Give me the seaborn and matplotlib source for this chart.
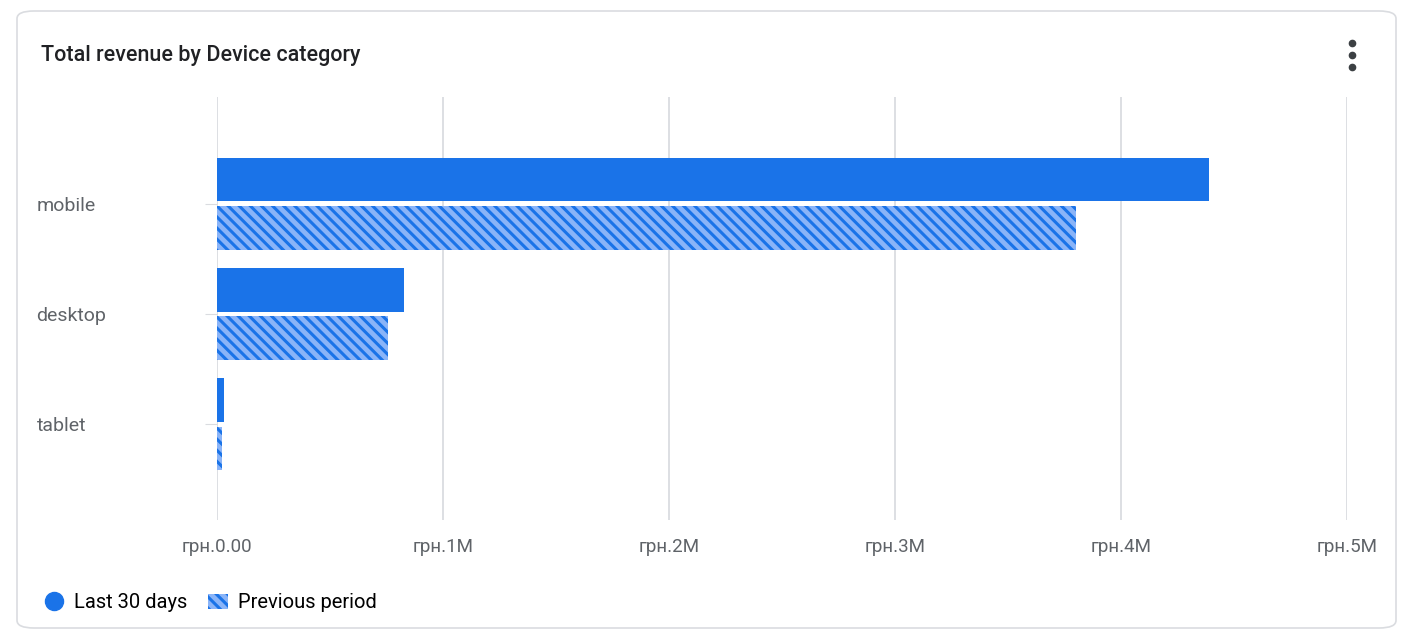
import numpy as np
import pandas as pd
import matplotlib.pyplot as plt
import seaborn as sns
from matplotlib.patches import FancyBboxPatch
from matplotlib.lines import Line2D
from matplotlib.patches import Patch

devices = ["mobile", "desktop", "tablet"]
last_30_days = [4.39e6, 0.827e6, 0.031e6]
previous_period = [3.80e6, 0.757e6, 0.022e6]
period_names = ["Last 30 days", "Previous period"]
x_ticks = [0, 1e6, 2e6, 3e6, 4e6, 5e6]
x_tick_labels = ["грн.0.00", "грн.1M", "грн.2M", "грн.3M", "грн.4M", "грн.5M"]

BLUE = "#1a73e8"
LIGHT = "#8ab4f8"
GREY = "#5f6368"

df = pd.DataFrame({
    "device": devices * 2,
    "revenue": last_30_days + previous_period,
    "period": [period_names[0]] * 3 + [period_names[1]] * 3,
})

plt.rcParams["font.family"] = ["Roboto", "DejaVu Sans"]
plt.rcParams["hatch.linewidth"] = 2.2
fig = plt.figure(figsize=(14.11, 6.34), dpi=100)
fig.patch.set_facecolor("white")
W, H = 1411, 634
ax = fig.add_axes([217 / W, 1 - 520 / H, (1347 - 217) / W, (520 - 97) / H])

sns.barplot(data=df, x="revenue", y="device", hue="period", order=devices,
            hue_order=period_names, palette=[BLUE, LIGHT], width=0.88,
            gap=0.1, saturation=1, legend=False, ax=ax)

for bar in ax.containers[1]:
    bar.set_hatch("\\\\\\")
    bar.set_edgecolor(BLUE)
    bar.set_linewidth(0)

ax.set_xlim(0, 5e6)
ax.set_ylim(2.87, -0.97)
ax.set_xticks(x_ticks)
ax.set_xticklabels(x_tick_labels, color=GREY, fontsize=13.5)
ax.grid(axis="x", color="#dadce0", linewidth=1.3)
ax.set_axisbelow(True)
for s in ax.spines.values():
    s.set_visible(False)
ax.tick_params(axis="x", length=0, pad=13)
ax.tick_params(axis="y", length=9, color="#dadce0", pad=121)
for lbl in ax.get_yticklabels():
    lbl.set_horizontalalignment("left")
    lbl.set_color(GREY)
    lbl.set_fontsize(14)
ax.set_xlabel("")
ax.set_ylabel("")

# card
fig.patches.append(FancyBboxPatch((17 / W, 6 / H), (1396 - 17) / W, (623 - 6) / H,
                                  boxstyle="round,pad=0,rounding_size=0.012",
                                  transform=fig.transFigure, facecolor="none",
                                  edgecolor="#dadce0", linewidth=1.2))
fig.text(41 / W, 1 - 55 / H, "Total revenue by Device category", fontsize=15.5,
         color="#202124", va="center", fontweight="medium")
for yy in (43, 55, 67):
    fig.add_artist(Line2D([1352 / W], [1 - yy / H], marker="o", markersize=4.5,
                          color="#3c4043", transform=fig.transFigure))

handles = [Line2D([], [], marker="o", linestyle="", markersize=13,
                  markerfacecolor=BLUE, markeredgecolor=BLUE),
           Patch(facecolor=LIGHT, edgecolor=BLUE, hatch="\\\\\\", linewidth=0)]
fig.legend(handles, period_names, loc="center left",
           bbox_to_anchor=(26 / W, 1 - 603 / H), ncol=2, frameon=False,
           fontsize=14.5, handlelength=1.0, handletextpad=0.5,
           columnspacing=1.0)

fig.savefig("out.png", dpi=100)
